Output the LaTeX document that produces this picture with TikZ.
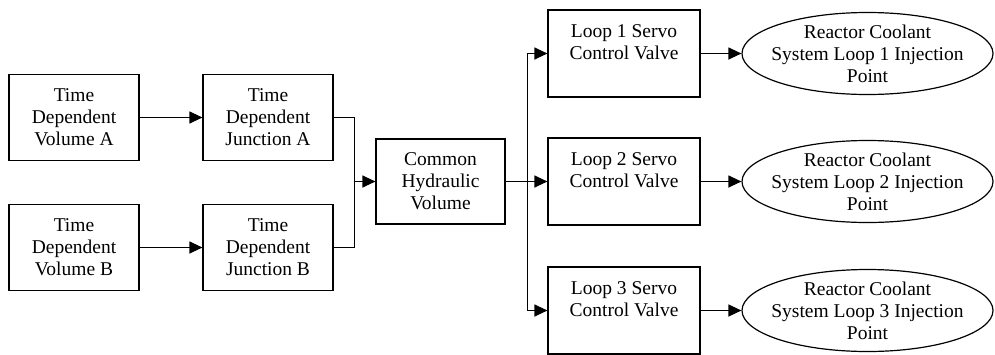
\documentclass[tikz,border=0pt]{standalone}
\usepackage{fontspec}
\setmainfont{Liberation Serif}
\usetikzlibrary{shapes.geometric,arrows.meta}
\begin{document}
\begin{tikzpicture}[x=1pt,y=-1pt,line width=1.2pt,
	box/.style={draw,rectangle,align=center,inner sep=0pt,minimum width=130,minimum height=86,font=\fontsize{19.5}{22}\selectfont},
	loopbox/.style={box,minimum width=152,minimum height=87},
	inj/.style={draw,ellipse,align=center,inner xsep=-20pt,inner ysep=-5pt,minimum width=251,minimum height=82,font=\fontsize{19.5}{22}\selectfont},
	flow/.style={-{Triangle[length=13pt,width=12pt]}}]
	\useasboundingbox (0,0) rectangle (995,354);
	
	\node[box] (volA) at (74,117.5){Time\\Dependent\\Volume A};
	\node[box] (juncA) at (268,117.5){Time\\Dependent\\Junction A};
	\node[box] (volB) at (74,247.5){Time\\Dependent\\Volume B};
	\node[box] (juncB) at (268,247.5){Time\\Dependent\\Junction B};
	
	\node[box,minimum width=129,minimum height=85] (common) at (440.5,181.5){Common\\Hydraulic\\Volume};
	
	\node[loopbox] (loop1) at (624,53.5){Loop 1 Servo\\Control Valve\\ \mbox{}};
	\node[loopbox] (loop2) at (624,181.5){Loop 2 Servo\\Control Valve\\ \mbox{}};
	\node[loopbox] (loop3) at (624,310.5){Loop 3 Servo\\Control Valve\\ \mbox{}};
	
	\node[inj] (inj1) at (867.5,53.5){Reactor Coolant\\System Loop 1 Injection\\Point};
	\node[inj] (inj2) at (867.5,181.5){Reactor Coolant\\System Loop 2 Injection\\Point};
	\node[inj] (inj3) at (867.5,310.5){Reactor Coolant\\System Loop 3 Injection\\Point};
	
	\coordinate (merge) at (354.5,181.5);
	\coordinate (split) at (527.5,181.5);
	
	\draw[flow] (volA) -- (juncA);
	\draw[flow] (volB) -- (juncB);
	\draw (juncA.east) -| (merge);
	\draw (juncB.east) -| (merge);
	\draw[flow] (merge) -- (common.west);
	
	\draw (common.east) -- (split);
	\draw[flow] (split) |- (loop1.west);
	\draw[flow] (split) -- (loop2.west);
	\draw[flow] (split) |- (loop3.west);
	
	\draw[flow] (loop1) -- (inj1);
	\draw[flow] (loop2) -- (inj2);
	\draw[flow] (loop3) -- (inj3);
\end{tikzpicture}
\end{document}
